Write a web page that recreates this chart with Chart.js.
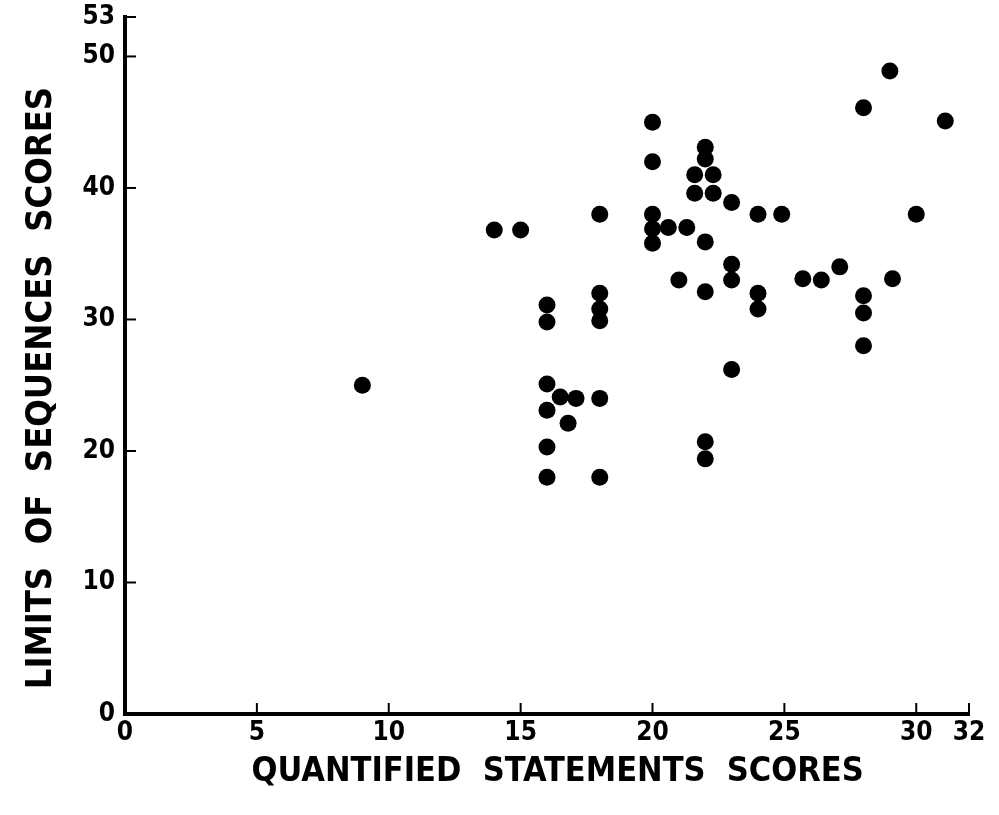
<!DOCTYPE html>
<html lang="en">
<head>
    <meta charset="UTF-8">
    <title>Quantified Statements x Limits of Sequences</title>
    <script src="https://cdn.jsdelivr.net/npm/chart.js"></script>
    <style>
        html, body { margin: 0; padding: 0; background: #fff; }
    </style>
</head>
<body>
<canvas id="grafico" width="999" height="815"></canvas>
<script>
    // pontuações
    const quantificadas = [9, 14, 15, 16, 16, 16, 16, 16, 16, 16.5, 17.1, 16.8,
        18, 18, 18, 18, 18, 18, 20, 20, 20, 20, 20, 20.6, 21.3, 21,
        22, 22, 21.6, 22.3, 21.6, 22.3, 22, 22, 22, 22,
        23, 23, 23, 23, 24, 24, 24, 24.9, 25.7, 26.4, 27.1,
        28, 28, 28, 28, 29, 29.1, 30, 31.1];
    const limites = [25, 36.8, 36.8, 31.1, 29.8, 25.1, 23.1, 20.3, 18, 24.1, 24, 22.1,
        38, 32, 30.8, 29.9, 24, 18, 45, 42, 38, 36.9, 35.8, 37, 37, 33,
        43.1, 42.2, 41, 41, 39.6, 39.6, 35.9, 32.1, 20.7, 19.4,
        38.9, 34.2, 33, 26.2, 38, 32, 30.8, 38, 33.1, 33, 34,
        46.1, 31.8, 30.5, 28, 48.9, 33.1, 38, 45.1];

    const xTicks = [0, 5, 10, 15, 20, 25, 30, 32];
    const yTicks = [0, 10, 20, 30, 40, 50, 53];

    const pontos = quantificadas.map((q, i) => ({ x: q, y: limites[i] }));

    const fonte = "'DejaVu Sans Condensed', 'DejaVu Sans', sans-serif";

    // marcas dos ticks para dentro da área do gráfico
    const marcasInternas = {
        id: 'marcasInternas',
        afterDraw(chart) {
            const ctx = chart.ctx;
            const sx = chart.scales.x;
            const sy = chart.scales.y;
            ctx.save();
            ctx.strokeStyle = '#000';
            ctx.lineWidth = 2;
            sx.ticks.forEach(t => {
                const px = sx.getPixelForValue(t.value);
                ctx.beginPath();
                ctx.moveTo(px, sy.bottom);
                ctx.lineTo(px, sy.bottom - 11);
                ctx.stroke();
            });
            sy.ticks.forEach(t => {
                const py = sy.getPixelForValue(t.value);
                ctx.beginPath();
                ctx.moveTo(sx.left, py);
                ctx.lineTo(sx.left + 11, py);
                ctx.stroke();
            });
            ctx.restore();
        }
    };

    const ctx = document.getElementById('grafico').getContext('2d');
    new Chart(ctx, {
        type: 'scatter',
        data: {
            datasets: [{
                label: 'Scores',
                data: pontos,
                backgroundColor: '#000',
                borderWidth: 0,
                pointRadius: 8.5,
                pointHoverRadius: 8.5
            }]
        },
        options: {
            responsive: false,
            animation: false,
            layout: { padding: { top: 17, right: 30, bottom: 0, left: 0 } },
            plugins: {
                legend: { display: false },
                tooltip: { enabled: false }
            },
            scales: {
                x: {
                    type: 'linear',
                    min: 0,
                    max: 32,
                    afterBuildTicks: scale => { scale.ticks = xTicks.map(v => ({ value: v })); },
                    afterFit: scale => { scale.height = 101; scale.paddingRight = 0; },
                    grid: { display: true, drawOnChartArea: false, drawTicks: false },
                    border: { display: true, color: '#000', width: 4 },
                    ticks: {
                        color: '#000',
                        padding: 4,
                        maxRotation: 0,
                        autoSkip: false,
                        font: { family: fonte, size: 26, weight: 'bold' }
                    },
                    title: {
                        display: true,
                        text: '  QUANTIFIED  STATEMENTS  SCORES',
                        color: '#000',
                        font: { family: fonte, size: 34, weight: 'bold' },
                        padding: { top: 0, bottom: 22 }
                    }
                },
                y: {
                    type: 'linear',
                    min: 0,
                    max: 53,
                    afterBuildTicks: scale => { scale.ticks = yTicks.map(v => ({ value: v })); },
                    afterFit: scale => { scale.width = 125; scale.paddingTop = 0; },
                    grid: { display: true, drawOnChartArea: false, drawTicks: false },
                    border: { display: true, color: '#000', width: 4 },
                    ticks: {
                        color: '#000',
                        padding: 10,
                        autoSkip: false,
                        font: { family: fonte, size: 26, weight: 'bold' }
                    },
                    title: {
                        display: true,
                        text: 'LIMITS  OF  SEQUENCES  SCORES    ',
                        color: '#000',
                        font: { family: fonte, size: 36, weight: 'bold' },
                        padding: { top: 20, bottom: 0 }
                    }
                }
            }
        },
        plugins: [marcasInternas]
    });
</script>
</body>
</html>
